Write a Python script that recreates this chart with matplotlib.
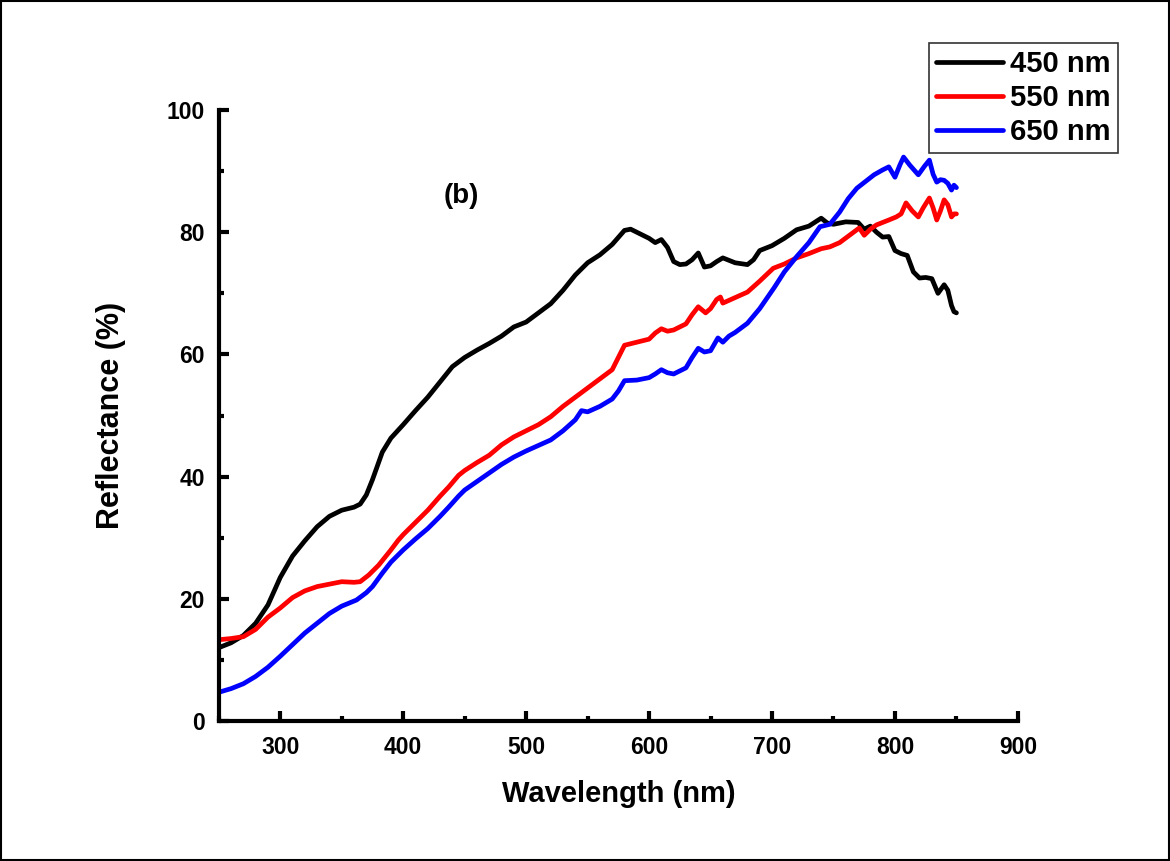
import matplotlib
matplotlib.use("Agg")
import matplotlib.pyplot as plt
from matplotlib.patches import Rectangle
from matplotlib.ticker import MultipleLocator

plt.rcParams['font.family'] = ['Liberation Sans', 'DejaVu Sans']
plt.rcParams['font.weight'] = 'bold'

# ---- data ----
wl_450 = [250,260,270,280,290,300,310,320,330,340,350,360,365,370,375,383,390,400,410,420,430,440,450,
          460,470,480,490,500,510,520,530,540,550,560,570,580,585,590,600,605,610,615,620,625,630,635,
          640,645,650,655,660,670,680,685,690,700,710,720,730,740,745,750,760,770,775,780,785,790,795,
          800,805,810,815,820,825,830,835,840,843,846,848,850]
r_450 = [12,12.8,14,16,19,23.5,27,29.5,31.8,33.5,34.5,35,35.5,37,39.5,44,46.3,48.5,50.8,53,55.5,58,59.5,
         60.7,61.8,63,64.5,65.3,66.8,68.3,70.5,73,75,76.3,78,80.3,80.5,80,79,78.3,78.8,77.5,75.2,74.7,74.8,75.5,
         76.6,74.3,74.5,75.2,75.8,75,74.7,75.5,77,77.8,79,80.4,81,82.3,81.5,81.3,81.7,81.6,80.5,81,80,79.2,79.3,
         77,76.5,76.2,73.5,72.5,72.6,72.4,70,71.4,70.5,68,67,66.8]

wl_550 = [250,260,270,280,290,300,310,320,330,340,350,360,365,372,380,390,396,400,410,420,430,437,445,450,
          460,470,480,490,500,510,520,530,540,550,560,570,575,580,590,600,605,610,615,620,630,635,640,646,
          650,655,658,660,670,680,690,701,710,720,730,740,747,755,765,771,775,780,785,795,801,805,809,814,
          819,823,828,831,834,837,840,843,846,848,850]
r_550 = [13.3,13.5,13.8,15,17,18.5,20.2,21.3,22,22.4,22.8,22.7,22.8,23.9,25.5,28,29.6,30.5,32.5,34.5,36.8,38.3,40.2,41,
         42.3,43.5,45.2,46.5,47.5,48.5,49.8,51.5,53,54.5,56,57.5,59.5,61.5,62,62.5,63.5,64.2,63.8,64,65,66.5,67.8,66.8,
         67.5,69,69.4,68.4,69.3,70.2,72,74.1,74.8,75.8,76.5,77.3,77.6,78.3,79.8,80.7,79.5,80.5,81.2,82,82.5,83,84.8,83.5,
         82.5,84,85.6,84,82,83.5,85.3,84.5,82.5,83,83]

wl_650 = [250,260,270,280,290,300,310,320,330,340,350,356,362,370,375,383,390,400,410,420,430,437,445,450,
          460,470,480,490,500,510,520,530,540,545,550,560,570,575,580,590,600,605,610,615,620,630,635,640,
          645,650,656,660,665,670,680,690,702,710,720,730,739,747,755,762,769,776,783,790,795,800,804,807,
          812,819,824,828,831,834,837,840,843,846,848,850]
r_650 = [4.7,5.3,6.1,7.3,8.8,10.6,12.5,14.4,16,17.6,18.8,19.3,19.8,21,22,24.2,26,28,29.8,31.5,33.5,35,36.8,37.8,
         39.2,40.6,42,43.2,44.2,45.1,46,47.5,49.3,50.8,50.6,51.5,52.7,54,55.7,55.8,56.2,56.8,57.5,57,56.8,57.8,59.5,61,
         60.4,60.6,62.7,62,63,63.6,65.1,67.5,71,73.5,76,78.3,80.9,81.3,83.3,85.5,87.2,88.3,89.4,90.2,90.7,89,91,92.3,
         91,89.4,90.8,91.8,89.5,88.2,88.6,88.5,88,86.9,87.7,87.3]

labels = ['450 nm', '550 nm', '650 nm']
colors = ['black', 'red', 'blue']
x_ticks = [300, 400, 500, 600, 700, 800, 900]

fig = plt.figure(figsize=(11.7, 8.61), dpi=100)
ax = fig.add_axes([0.187, 0.1626, 0.683, 0.7096])

for wl, r, lab, c in zip([wl_450, wl_550, wl_650], [r_450, r_550, r_650], labels, colors):
    ax.plot(wl, r, color=c, lw=3.4, label=lab, solid_joinstyle='round', solid_capstyle='round')

ax.set_xlim(250, 900)
ax.set_ylim(0, 100)
ax.xaxis.set_major_locator(MultipleLocator(100))
ax.xaxis.set_minor_locator(MultipleLocator(50))
ax.yaxis.set_major_locator(MultipleLocator(20))
ax.yaxis.set_minor_locator(MultipleLocator(10))
for s in ['top', 'right']:
    ax.spines[s].set_visible(False)
for s in ['left', 'bottom']:
    ax.spines[s].set_linewidth(3)
ax.tick_params(which='major', direction='in', length=7, width=3, labelsize=16.5)
ax.tick_params(axis='x', which='major', pad=11)
ax.tick_params(axis='y', which='major', pad=10)
ax.tick_params(which='minor', direction='in', length=3.5, width=3)
ax.set_xticks(x_ticks)
for t in ax.get_xticklabels() + ax.get_yticklabels():
    t.set_fontweight('bold')

ax.set_xlabel('Wavelength (nm)', fontsize=21, fontweight='bold', labelpad=15)
ax.set_ylabel('Reflectance (%)', fontsize=22, fontweight='bold', labelpad=29)

ax.text(447, 86, '(b)', fontsize=20, fontweight='bold', ha='center', va='center')

leg = fig.legend(loc='upper right', bbox_to_anchor=(0.9556, 0.950), fontsize=21,
                 frameon=True, fancybox=False, edgecolor='black', handlelength=2.3,
                 handletextpad=0.25, borderpad=0.25, labelspacing=0.2, borderaxespad=0)
leg.get_frame().set_linewidth(1.2)
for t in leg.get_texts():
    t.set_fontweight('bold')

fig.patches.append(Rectangle((0.001, 0.001), 0.998, 0.998, transform=fig.transFigure,
                             fill=False, edgecolor='black', lw=1.5))

fig.savefig('out.png', dpi=100)
